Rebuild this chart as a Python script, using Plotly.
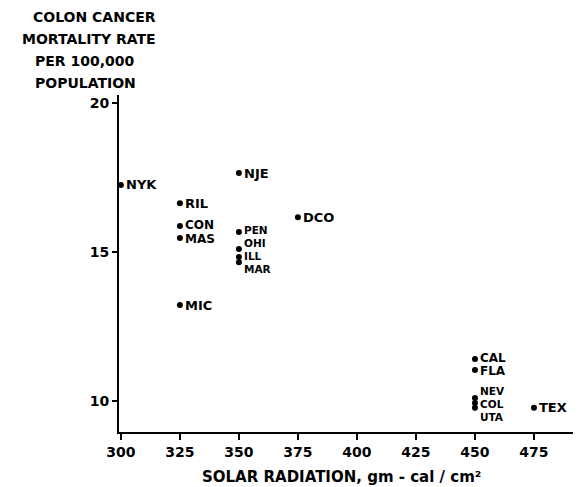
import plotly.graph_objects as go

states = ["NYK", "NJE", "RIL", "DCO", "CON", "MAS", "PEN", "OHI", "ILL", "MAR",
          "MIC", "CAL", "FLA", "NEV", "COL", "UTA", "TEX"]
radiation = [300, 350, 325, 375, 325, 325, 350, 350, 350, 350,
             325, 450, 450, 450, 450, 450, 475]
mortality = [17.25, 17.65, 16.64, 16.17, 15.87, 15.47, 15.67, 15.1, 14.83, 14.66,
             13.22, 11.41, 11.04, 10.1, 9.93, 9.77, 9.77]
label_shift = [0, 0, 0, 0, 1, -1, 2, 6, 1, -7,
               0, 1, -1, 7, -1, -9, 0]
label_size = [13, 13, 13, 13, 12, 12, 10.5, 10.5, 10.5, 10.5,
              13, 12, 12, 10.5, 10.5, 10.5, 13]

x_ticks = [300, 325, 350, 375, 400, 425, 450, 475]
y_ticks = [10, 15, 20]
title_lines = ["COLON CANCER", "MORTALITY RATE", "PER 100,000", "POPULATION"]

FONT = "DejaVu Sans"

fig = go.Figure()
fig.add_trace(go.Scatter(
    x=radiation, y=mortality, mode="markers",
    marker=dict(color="black", size=6),
    showlegend=False, hoverinfo="skip",
))

for s, xv, yv, sh, fs in zip(states, radiation, mortality, label_shift, label_size):
    fig.add_annotation(x=xv, y=yv, text=f"<b>{s}</b>", showarrow=False,
                       xanchor="left", yanchor="middle", xshift=4, yshift=sh,
                       borderpad=0,
                       font=dict(family=FONT, size=fs, color="black"))

# y-axis title block (plot area spans 119..580 px horizontally, 95..432 px vertically)
title_y_px = [17, 39, 61, 83]
title_x_px = [94, 89, 85, 85]
for line, ypx, xpx in zip(title_lines, title_y_px, title_x_px):
    fig.add_annotation(xref="paper", yref="paper",
                       x=(xpx - 119) / 461, y=(432 - ypx) / 337,
                       xanchor="center", yanchor="middle", showarrow=False,
                       text=f"<b>{line}</b>",
                       font=dict(family=FONT, size=14, color="black"))

fig.add_annotation(xref="paper", yref="paper", x=(341 - 119) / 461, y=(432 - 477) / 337,
                   xanchor="center", yanchor="middle", showarrow=False,
                   text="<b>SOLAR RADIATION, gm - cal / cm²</b>",
                   font=dict(family=FONT, size=15, color="black"))

fig.update_layout(
    width=581, height=487,
    margin=dict(l=111, r=9, t=87, b=63),
    paper_bgcolor="white", plot_bgcolor="white",
    font=dict(family=FONT, color="black"),
    xaxis=dict(range=[299.2, 494.5], tickvals=x_ticks,
               ticktext=[f"<b>{v}</b>" for v in x_ticks],
               showline=True, linecolor="black", linewidth=2,
               ticks="outside", ticklen=6, tickwidth=2, tickcolor="black",
               showgrid=False, zeroline=False,
               tickfont=dict(family=FONT, size=14, color="black")),
    yaxis=dict(range=[8.96, 20.27], tickvals=y_ticks,
               ticktext=[f"<b>{v}</b>" for v in y_ticks],
               showline=True, linecolor="black", linewidth=2,
               ticks="outside", ticklen=5, tickwidth=2, tickcolor="black",
               showgrid=False, zeroline=False,
               tickfont=dict(family=FONT, size=14, color="black")),
)

fig.write_html("out.html")
